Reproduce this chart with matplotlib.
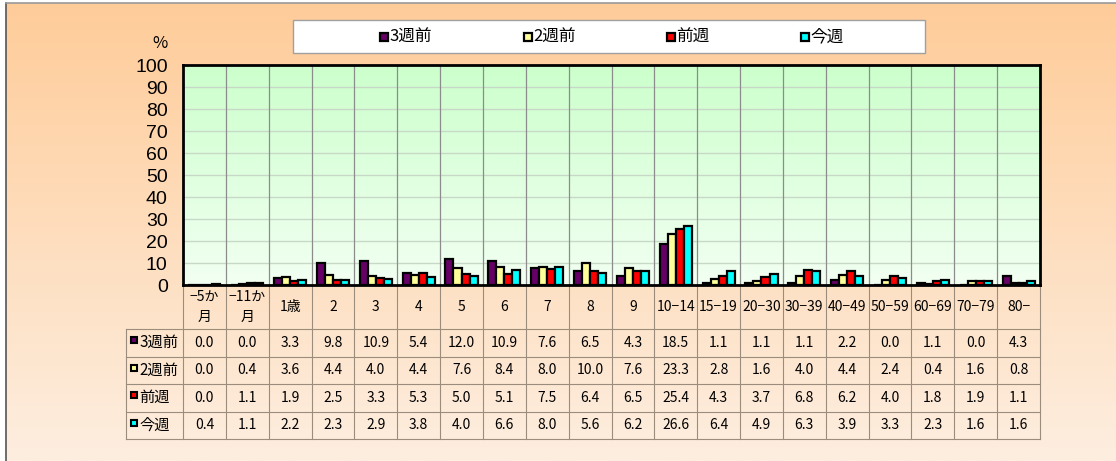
import numpy as np
import matplotlib
matplotlib.use("Agg")
import matplotlib.pyplot as plt
from matplotlib.transforms import blended_transform_factory
from matplotlib.patches import Rectangle
from matplotlib.lines import Line2D

plt.rcParams['font.family'] = ['Noto Sans CJK JP', 'DejaVu Sans']

categories = ["−5か\n月", "−11か\n月", "1歳", "2", "3", "4", "5", "6", "7", "8", "9",
              "10−14", "15−19", "20−30", "30−39", "40−49", "50−59", "60−69", "70−79", "80−"]
series_names = ["3週前", "2週前", "前週", "今週"]
week3_ago = [0.0, 0.0, 3.3, 9.8, 10.9, 5.4, 12.0, 10.9, 7.6, 6.5, 4.3, 18.5, 1.1, 1.1, 1.1, 2.2, 0.0, 1.1, 0.0, 4.3]
week2_ago = [0.0, 0.4, 3.6, 4.4, 4.0, 4.4, 7.6, 8.4, 8.0, 10.0, 7.6, 23.3, 2.8, 1.6, 4.0, 4.4, 2.4, 0.4, 1.6, 0.8]
last_week = [0.0, 1.1, 1.9, 2.5, 3.3, 5.3, 5.0, 5.1, 7.5, 6.4, 6.5, 25.4, 4.3, 3.7, 6.8, 6.2, 4.0, 1.8, 1.9, 1.1]
this_week = [0.4, 1.1, 2.2, 2.3, 2.9, 3.8, 4.0, 6.6, 8.0, 5.6, 6.2, 26.6, 6.4, 4.9, 6.3, 3.9, 3.3, 2.3, 1.6, 1.6]
series = [week3_ago, week2_ago, last_week, this_week]
colors = ["#660066", "#FFFF99", "#FF0000", "#00FFFF"]
yticks = list(range(0, 101, 10))

W, H = 1116, 461
fig = plt.figure(figsize=(W / 100, H / 100), dpi=100)
fig.patch.set_facecolor("white")

def px(x, y):
    return x / W, 1 - y / H

# chart-area background gradient
bg = fig.add_axes([6 / W, 0, 1 - 6 / W, (H - 3) / H], zorder=-10)
g = np.linspace(0, 1, 256)[:, None, None]
top_c = np.array([255, 204, 153]) / 255
bot_c = np.array([253, 238, 224]) / 255
img = top_c[None, None, :] * (1 - g) + bot_c[None, None, :] * g
bg.imshow(img, aspect="auto", extent=(0, 1, 0, 1), origin="upper")
bg.set_xticks([]); bg.set_yticks([])
for s in ["right", "bottom"]:
    bg.spines[s].set_visible(False)
bg.spines["left"].set_color("#555555"); bg.spines["left"].set_linewidth(1.2)
bg.spines["top"].set_color("#999999"); bg.spines["top"].set_linewidth(1.2)

# main plot
n = len(categories)
ax = fig.add_axes([183 / W, 1 - 285 / H, 857 / W, 220 / H])
pg = np.array([204, 255, 204]) / 255
pb = np.array([242, 255, 242]) / 255
pimg = pg[None, None, :] * (1 - g) + pb[None, None, :] * g
ax.imshow(pimg, aspect="auto", extent=(-0.5, n - 0.5, 0, 100), origin="upper", zorder=0)
ax.set_xlim(-0.5, n - 0.5)
ax.set_ylim(0, 100)
for yv in yticks[1:-1]:
    ax.axhline(yv, color="#c8d8c8", lw=1.0, zorder=1)
for i in range(1, n):
    ax.axvline(i - 0.5, color="#8c8c8c", lw=0.9, zorder=1)

x = np.arange(n)
w = 0.1875
for k, (vals, c) in enumerate(zip(series, colors)):
    ax.bar(x + (k - 1.5) * w, vals, width=w, color=c, edgecolor="black", linewidth=1.6, zorder=3)

ax.set_xticks([])
ax.set_yticks(yticks)
ax.set_yticklabels([str(v) for v in yticks], fontsize=14, family=['Liberation Sans', 'DejaVu Sans'])
ax.tick_params(axis="y", length=0, pad=11)
for s in ax.spines.values():
    s.set_linewidth(2.0); s.set_color("black"); s.set_zorder(5)

# data table
tr = blended_transform_factory(ax.transData, ax.transAxes)
lc = "#9c8c7c"
colw = 857 / n
left_x = -0.5 - 57 / colw
row_edges = [-0.2, -0.325, -0.45, -0.575, -0.7]
for yv in row_edges:
    ax.add_line(Line2D([left_x, n - 0.5], [yv, yv], transform=tr, color=lc, lw=0.8, clip_on=False))
for i in range(n + 1):
    ax.add_line(Line2D([i - 0.5, i - 0.5], [0, -0.7], transform=tr, color=lc, lw=0.8, clip_on=False))
ax.add_line(Line2D([left_x, left_x], [-0.2, -0.7], transform=tr, color=lc, lw=0.8, clip_on=False))

for i, lab in enumerate(categories):
    ax.text(i, -0.1, lab, transform=tr, ha="center", va="center", fontsize=10, linespacing=1.5)
for k, (vals, name, c) in enumerate(zip(series, series_names, colors)):
    yc = -0.2625 - k * 0.125
    for i, v in enumerate(vals):
        ax.text(i, yc, f"{v:.1f}", transform=tr, ha="center", va="center", fontsize=10)
    ax.plot([left_x + 7.5 / colw], [yc + 0.012], marker="s", markersize=4.5, markerfacecolor=c,
            markeredgecolor="black", markeredgewidth=1.5, transform=tr, clip_on=False)
    ax.text(left_x + 13.5 / colw, yc, name, transform=tr, ha="left", va="center", fontsize=11)

# legend box
lx0, ly0 = px(293, 53)
lx1, ly1 = px(925, 20)
fig.add_artist(Rectangle((lx0, ly0), lx1 - lx0, ly1 - ly0, transform=fig.transFigure,
                         facecolor="white", edgecolor="#a0a0a0", lw=1.0))
leg_x = [379, 523, 666, 800]
for xm, name, c in zip(leg_x, series_names, colors):
    mx, my = px(xm + 4.5, 37)
    fig.add_artist(Line2D([mx], [my], marker="s", markersize=5.5, markerfacecolor=c,
                          markeredgecolor="black", markeredgewidth=1.6, transform=fig.transFigure))
    tx, ty = px(xm + 10.5, 37)
    fig.text(tx, ty, name, ha="left", va="center", fontsize=12)

pxp, pyp = px(160, 43)
fig.text(pxp, pyp, "%", ha="center", va="center", fontsize=12)

fig.savefig("out.png", dpi=100)
